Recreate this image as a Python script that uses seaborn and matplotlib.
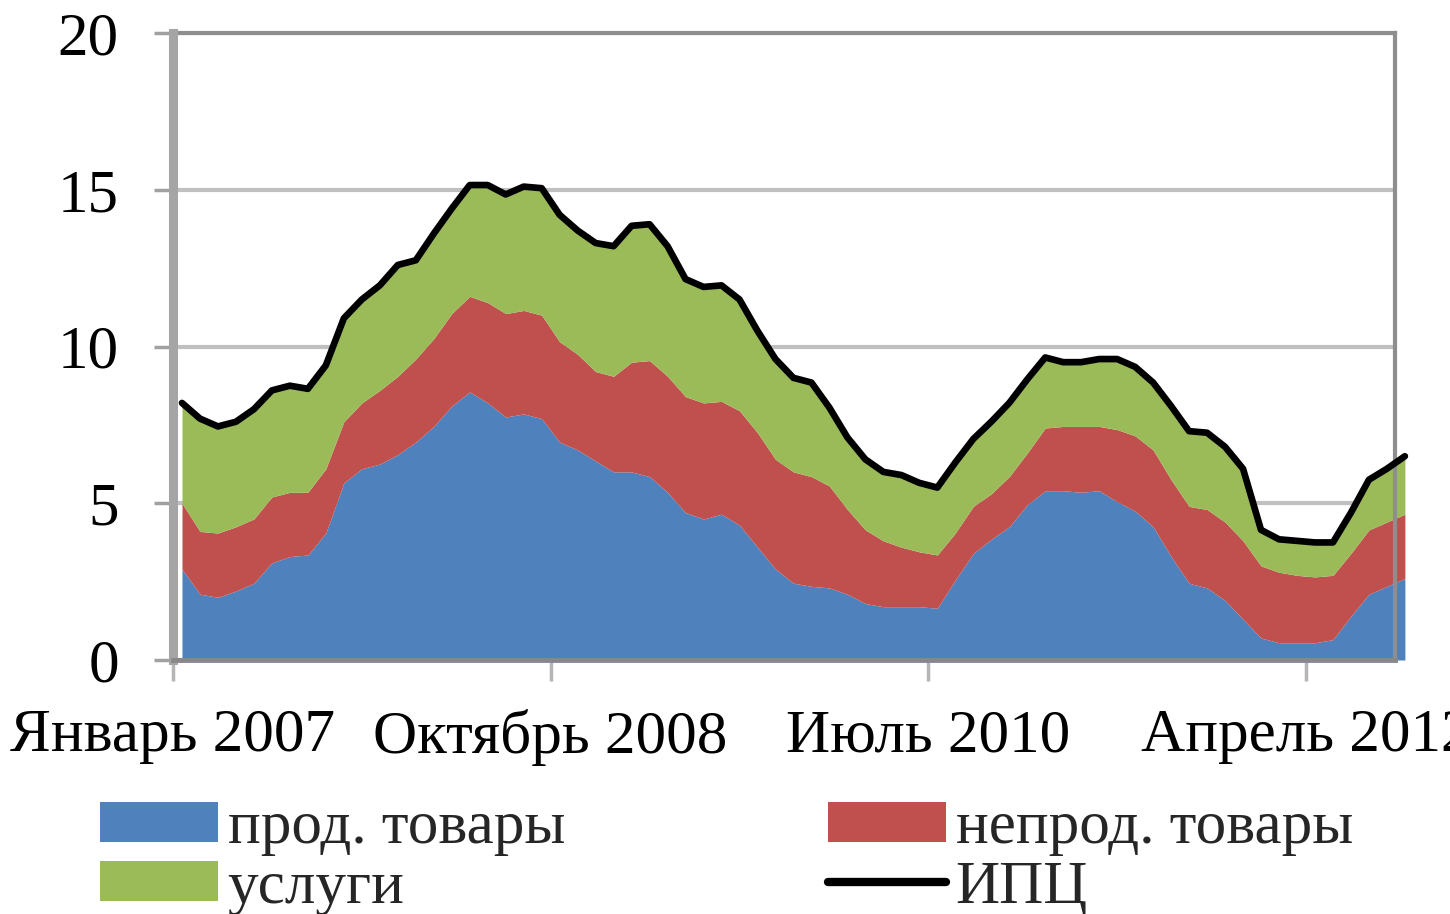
import numpy as np
import pandas as pd
import seaborn as sns
import matplotlib.pyplot as plt
from matplotlib.lines import Line2D

# monthly contributions to CPI growth, Jan 2007 - Sep 2012
food = [2.9, 2.1, 2.0, 2.2, 2.45, 3.1, 3.3, 3.35, 4.05, 5.65, 6.1, 6.25,
        6.55, 6.95, 7.45, 8.1, 8.55, 8.2, 7.75, 7.85, 7.7, 6.95, 6.7, 6.35,
        6.0, 6.0, 5.85, 5.35, 4.7, 4.5, 4.65, 4.3, 3.6, 2.9, 2.45, 2.35,
        2.3, 2.1, 1.8, 1.7, 1.7, 1.7, 1.65, 2.55, 3.4, 3.85, 4.25, 4.95,
        5.4, 5.4, 5.35, 5.4, 5.05, 4.75, 4.25, 3.3, 2.45, 2.3, 1.9, 1.3,
        0.7, 0.55, 0.55, 0.55, 0.65, 1.4, 2.1, 2.35, 2.6]
nonfood = [2.1, 2.0, 2.05, 2.05, 2.05, 2.1, 2.05, 2.0, 2.05, 1.95, 2.1, 2.35,
           2.5, 2.65, 2.8, 2.95, 3.05, 3.2, 3.3, 3.3, 3.3, 3.2, 3.05, 2.85,
           3.05, 3.5, 3.7, 3.7, 3.7, 3.7, 3.6, 3.65, 3.65, 3.5, 3.55, 3.5,
           3.25, 2.7, 2.35, 2.1, 1.9, 1.75, 1.7, 1.5, 1.5, 1.45, 1.6, 1.65,
           2.0, 2.05, 2.1, 2.05, 2.3, 2.4, 2.45, 2.45, 2.45, 2.5, 2.5, 2.5,
           2.3, 2.25, 2.15, 2.1, 2.05, 2.0, 2.05, 2.05, 2.05]
services = [3.2, 3.6, 3.4, 3.35, 3.5, 3.4, 3.4, 3.3, 3.3, 3.3, 3.3, 3.35,
            3.55, 3.15, 3.35, 3.35, 3.55, 3.75, 3.8, 3.95, 4.05, 4.05, 3.95, 4.1,
            4.15, 4.35, 4.35, 4.15, 3.75, 3.7, 3.7, 3.55, 3.25, 3.2, 3.0, 3.0,
            2.5, 2.3, 2.25, 2.2, 2.3, 2.2, 2.15, 2.25, 2.15, 2.3, 2.35, 2.35,
            2.25, 2.05, 2.05, 2.15, 2.25, 2.2, 2.15, 2.35, 2.4, 2.45, 2.4, 2.3,
            1.15, 1.05, 1.1, 1.1, 1.05, 1.3, 1.6, 1.7, 1.85]
cpi = [8.2, 7.7, 7.45, 7.6, 8.0, 8.6, 8.75, 8.65, 9.4, 10.9, 11.5, 11.95,
       12.6, 12.75, 13.6, 14.4, 15.15, 15.15, 14.85, 15.1, 15.05, 14.2, 13.7, 13.3,
       13.2, 13.85, 13.9, 13.2, 12.15, 11.9, 11.95, 11.5, 10.5, 9.6, 9.0, 8.85,
       8.05, 7.1, 6.4, 6.0, 5.9, 5.65, 5.5, 6.3, 7.05, 7.6, 8.2, 8.95,
       9.65, 9.5, 9.5, 9.6, 9.6, 9.35, 8.85, 8.1, 7.3, 7.25, 6.8, 6.1,
       4.15, 3.85, 3.8, 3.75, 3.75, 4.7, 5.75, 6.1, 6.5]

tick_pos = [0, 21, 42, 63]
tick_labels = ["Январь 2007", "Октябрь 2008", "Июль 2010", "Апрель 2012"]
y_ticks = [0, 5, 10, 15, 20]

colors = {"food": "#4f81bd", "nonfood": "#c0504d", "services": "#9bbb59"}

df = pd.DataFrame({"month": np.arange(len(cpi)) + 0.5, "food": food,
                   "nonfood": nonfood, "services": services, "cpi": cpi})

sns.set_theme(style="white")
plt.rcParams["font.family"] = ["Liberation Serif", "DejaVu Serif"]
fs = 44

fig = plt.figure(figsize=(14.5, 9.14), dpi=100)
ax = fig.add_axes([173 / 1450, 1 - 660 / 914, (1395 - 173) / 1450, (660 - 33) / 914])

polys = ax.stackplot(df["month"], df["food"], df["nonfood"], df["services"],
                     colors=[colors["food"], colors["nonfood"], colors["services"]],
                     linewidth=0, zorder=2)
for p in polys:
    p.set_clip_on(False)
sns.lineplot(data=df, x="month", y="cpi", ax=ax, color="black", lw=4.8,
             zorder=3, clip_on=False, legend=False)

ax.set_xlim(0, 67.95)
ax.set_ylim(0, 20)
ax.set_yticks(y_ticks)
ax.set_xticks(tick_pos)
ax.set_xticklabels(tick_labels)
ax.set_xlabel("")
ax.set_ylabel("")
ax.yaxis.grid(True, color="#c0c0c0", lw=3, zorder=1)
ax.set_axisbelow(True)

for side in ["top", "right"]:
    ax.spines[side].set_color("#8e8e8e")
    ax.spines[side].set_linewidth(3)
ax.spines["left"].set_color("#a5a5a5")
ax.spines["left"].set_linewidth(6.5)
ax.spines["bottom"].set_color("#888888")
ax.spines["bottom"].set_linewidth(3.5)
ax.spines["left"].set_zorder(4)
ax.spines["bottom"].set_zorder(4)

ax.tick_params(axis="y", left=True, length=14, width=2.5, color="#a0a0a0",
               pad=25, labelsize=fs, labelcolor="black")
ax.tick_params(axis="x", bottom=True, length=15, width=2.5, color="#b5b5b5",
               pad=20, labelsize=fs, labelcolor="black")

handles = [polys[0], polys[2], polys[1],
           Line2D([0], [0], color="black", lw=6)]
labels = ["прод. товары", "услуги", "непрод. товары", "ИПЦ"]
fig.legend(handles, labels, ncol=2, frameon=False, fontsize=fs,
           loc="upper left", bbox_to_anchor=(100 / 1450, 1 - 801 / 914),
           borderpad=0, borderaxespad=0, handlelength=1.93, handleheight=0.62,
           handletextpad=0.16, columnspacing=4.3, labelspacing=0.06)

fig.savefig("out.png", dpi=100, facecolor="white")
